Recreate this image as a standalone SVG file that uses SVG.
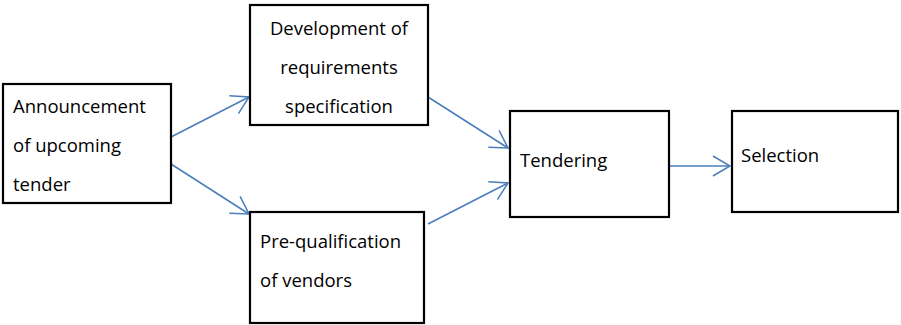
<svg xmlns="http://www.w3.org/2000/svg" width="901" height="325" viewBox="0 0 901 325">
  <style>
    .box { fill: #ffffff; stroke: #000000; stroke-width: 2.2; }
    .lbl { font-family: "Open Sans", "Liberation Sans", Arial, sans-serif; font-size: 18.5px; fill: #000000; }
    .mid { text-anchor: middle; }
    .edge { fill: none; stroke: #4a7ebb; stroke-width: 1.5; marker-end: url(#open-arrow); }
  </style>
  <defs>
    <marker id="open-arrow" markerUnits="userSpaceOnUse" viewBox="-20 -12 22 24" refX="0" refY="0" markerWidth="22" markerHeight="24" orient="auto" overflow="visible">
      <path d="M-17,-10 L0,0 L-17,10" fill="none" stroke="#4a7ebb" stroke-width="1.5"/>
    </marker>
  </defs>

  <g id="connectors">
    <line class="edge" x1="171" y1="137" x2="249" y2="97"/>
    <line class="edge" x1="171" y1="164" x2="249" y2="214"/>
    <line class="edge" x1="428" y1="97" x2="508" y2="148"/>
    <line class="edge" x1="428" y1="224" x2="508" y2="183"/>
    <line class="edge" x1="670" y1="166" x2="730" y2="166"/>
  </g>

  <g id="announcement">
    <rect class="box" x="3" y="84" width="168" height="119"/>
    <text class="lbl" x="13" y="113">Announcement</text>
    <text class="lbl" x="13" y="152">of upcoming</text>
    <text class="lbl" x="13" y="191">tender</text>
  </g>

  <g id="requirements">
    <rect class="box" x="250" y="5" width="178" height="120"/>
    <text class="lbl mid" x="339" y="35">Development of</text>
    <text class="lbl mid" x="339" y="74">requirements</text>
    <text class="lbl mid" x="339" y="113">specification</text>
  </g>

  <g id="prequalification">
    <rect class="box" x="250" y="212" width="174" height="111"/>
    <text class="lbl" x="260" y="248">Pre-qualification</text>
    <text class="lbl" x="260" y="287">of vendors</text>
  </g>

  <g id="tendering">
    <rect class="box" x="510" y="111" width="159" height="106"/>
    <text class="lbl" x="520" y="167">Tendering</text>
  </g>

  <g id="selection">
    <rect class="box" x="732" y="111" width="166" height="101"/>
    <text class="lbl" x="741" y="162">Selection</text>
  </g>
</svg>
